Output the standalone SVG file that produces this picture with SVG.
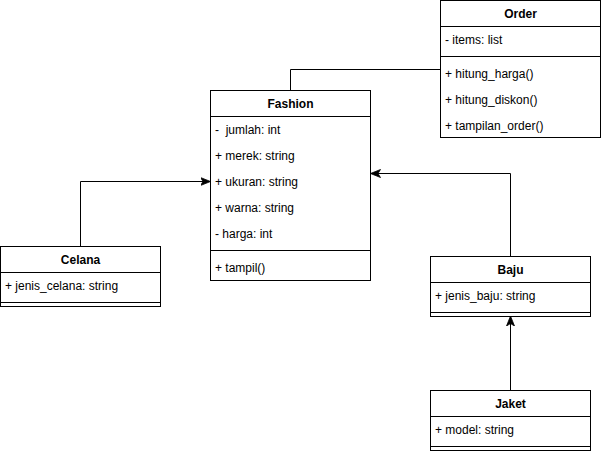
<svg xmlns="http://www.w3.org/2000/svg" width="601" height="451" viewBox="0 0 601 451">
<style>
.box{fill:#fff;stroke:#000;stroke-width:1}
.ln{stroke:#000;stroke-width:1;fill:none}
.t{font-family:"Liberation Sans",Arial,sans-serif;font-size:12px;fill:#000}
.h{font-family:"Liberation Sans",Arial,sans-serif;font-size:12px;font-weight:bold;fill:#000;text-anchor:middle}
</style>
<defs>
<marker id="arr" viewBox="0 0 10 10" refX="9" refY="5" markerWidth="10" markerHeight="10" markerUnits="userSpaceOnUse" orient="auto">
<path d="M0,1 L10,5 L0,9 L2.5,5 Z" fill="#000" stroke="#000" stroke-width="0.8"/>
</marker>
</defs>
<rect width="601" height="451" fill="#fff"/>
<g id="connectors">
<path class="ln" d="M290.5,90.5 V69.5 H440.5"/>
<path class="ln" d="M80.5,246.5 V181.5 H209.5" marker-end="url(#arr)"/>
<path class="ln" d="M510.5,256.5 V173.5 H371.5" marker-end="url(#arr)"/>
<path class="ln" d="M510.5,390.5 V317" marker-end="url(#arr)"/>
</g>
<g id="Order">
<rect class="box" x="440.5" y="0.5" width="160" height="137"/>
<line class="ln" x1="440.5" y1="26.5" x2="600.5" y2="26.5"/>
<line class="ln" x1="440.5" y1="56.5" x2="600.5" y2="56.5"/>
<text class="h" x="520.5" y="18">Order</text>
<text class="t" x="445" y="44">- items: list</text>
<text class="t" x="445" y="78">+ hitung_harga()</text>
<text class="t" x="445" y="104">+ hitung_diskon()</text>
<text class="t" x="445" y="130">+ tampilan_order()</text>
</g>
<g id="Fashion">
<rect class="box" x="210.5" y="90.5" width="160" height="190"/>
<line class="ln" x1="210.5" y1="116.5" x2="370.5" y2="116.5"/>
<line class="ln" x1="210.5" y1="250.5" x2="370.5" y2="250.5"/>
<text class="h" x="290.5" y="108">Fashion</text>
<text class="t" x="215" y="134" xml:space="preserve">-  jumlah: int</text>
<text class="t" x="215" y="160">+ merek: string</text>
<text class="t" x="215" y="186">+ ukuran: string</text>
<text class="t" x="215" y="212">+ warna: string</text>
<text class="t" x="215" y="238">- harga: int</text>
<text class="t" x="215" y="272">+ tampil()</text>
</g>
<g id="Celana">
<rect class="box" x="0.5" y="246.5" width="160" height="60"/>
<line class="ln" x1="0.5" y1="272.5" x2="160.5" y2="272.5"/>
<line class="ln" x1="0.5" y1="302.5" x2="160.5" y2="302.5"/>
<text class="h" x="80.5" y="264">Celana</text>
<text class="t" x="5" y="290">+ jenis_celana: string</text>
</g>
<g id="Baju">
<rect class="box" x="430.5" y="256.5" width="160" height="60"/>
<line class="ln" x1="430.5" y1="282.5" x2="590.5" y2="282.5"/>
<line class="ln" x1="430.5" y1="312.5" x2="590.5" y2="312.5"/>
<text class="h" x="510.5" y="274">Baju</text>
<text class="t" x="435" y="300">+ jenis_baju: string</text>
</g>
<g id="Jaket">
<rect class="box" x="430.5" y="390.5" width="160" height="60"/>
<line class="ln" x1="430.5" y1="416.5" x2="590.5" y2="416.5"/>
<line class="ln" x1="430.5" y1="446.5" x2="590.5" y2="446.5"/>
<text class="h" x="510.5" y="408">Jaket</text>
<text class="t" x="435" y="434">+ model: string</text>
</g>
</svg>
